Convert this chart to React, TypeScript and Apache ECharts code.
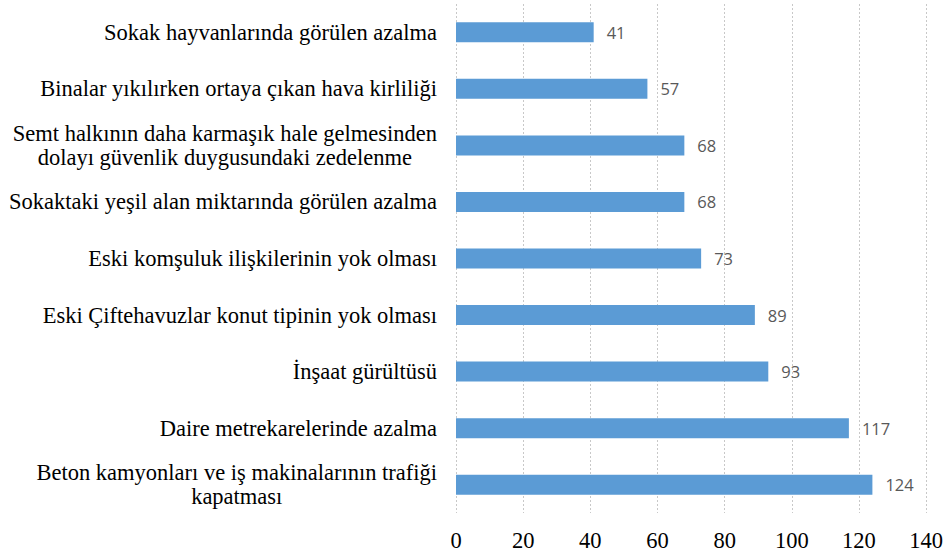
import React, { useEffect, useRef } from "react";
import * as echarts from "echarts";

const categories: string[] = [
  "Sokak hayvanlarında görülen azalma",
  "Binalar yıkılırken ortaya çıkan hava kirliliği",
  "Semt halkının daha karmaşık hale gelmesinden\ndolayı güvenlik duygusundaki zedelenme",
  "Sokaktaki yeşil alan miktarında görülen azalma",
  "Eski komşuluk ilişkilerinin yok olması",
  "Eski Çiftehavuzlar konut tipinin yok olması",
  "İnşaat gürültüsü",
  "Daire metrekarelerinde azalma",
  "Beton kamyonları ve iş makinalarının trafiği\nkapatması",
];
const values: number[] = [41, 57, 68, 68, 73, 89, 93, 117, 124];
const xTicks = { min: 0, max: 140, interval: 20 };

const SERIF = "Liberation Serif";

export default function App() {
  const ref = useRef<HTMLDivElement>(null);
  useEffect(() => {
    if (!ref.current) return;
    const chart = echarts.init(ref.current, undefined, { renderer: "svg" });
    chart.setOption({
      animation: false,
      textStyle: { fontFamily: SERIF },
      grid: { left: 456, right: 18, top: 4, bottom: 43, containLabel: false },
      xAxis: {
        type: "value",
        min: xTicks.min,
        max: xTicks.max,
        interval: xTicks.interval,
        axisLine: { show: false },
        axisTick: { show: false },
        splitLine: { show: true, lineStyle: { color: "#c8c8c8", type: [2, 2], width: 1 } },
        axisLabel: {
          margin: 16,
          fontFamily: SERIF,
          fontSize: 22.5,
          color: "#000",
        },
      },
      yAxis: {
        type: "category",
        inverse: true,
        data: categories,
        axisLine: { show: false },
        axisTick: { show: false },
        axisLabel: {
          margin: 19,
          align: "right",
          fontFamily: SERIF,
          fontSize: 22.5,
          lineHeight: 24,
          color: "#000",
          formatter: (v: string) =>
            v
              .split("\n")
              .map((l) => `{c|${l}}`)
              .join("\n"),
          rich: {
            c: {
              align: "center",
              fontFamily: SERIF,
              fontSize: 22.5,
              lineHeight: 24,
              color: "#000",
            },
          },
        },
      },
      series: [
        {
          type: "bar",
          data: values,
          barWidth: 20,
          itemStyle: { color: "#5B9BD5" },
          label: {
            show: true,
            position: "right",
            distance: 13,
            fontFamily: "Open Sans",
            fontSize: 16.5,
            color: "#595959",
          },
        },
      ],
    });
    return () => chart.dispose();
  }, []);
  return <div ref={ref} style={{ width: 946, height: 556, position: "absolute", left: 0, top: 0 }} />;
}
